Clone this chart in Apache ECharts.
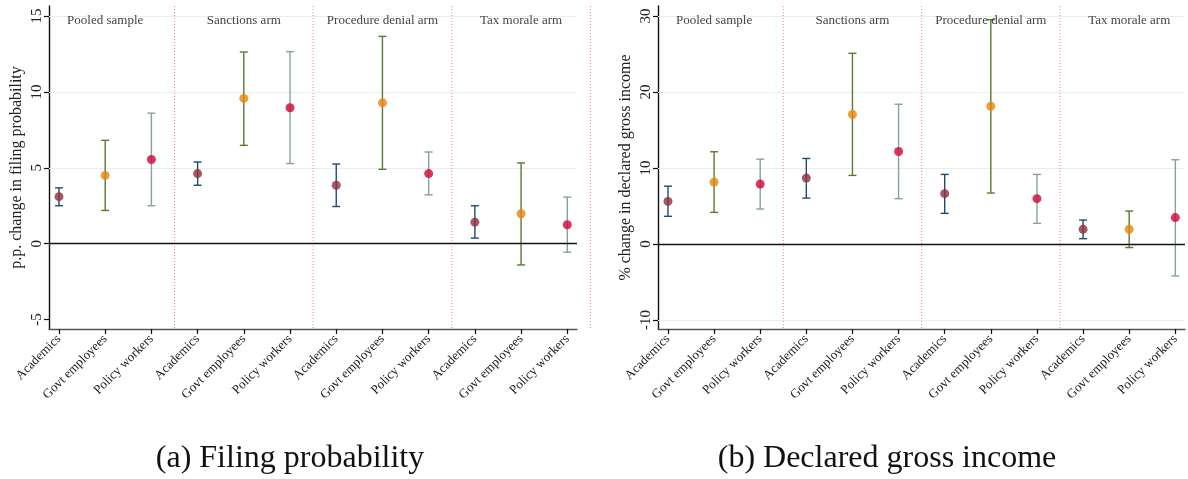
<!DOCTYPE html>
<html>
<head>
<meta charset="utf-8">
<script src="https://cdn.jsdelivr.net/npm/echarts@6/dist/echarts.min.js"></script>
<style>
html,body{margin:0;padding:0;background:#fff;}
#chart{width:1188px;height:479px;}
</style>
</head>
<body>
<div id="chart"></div>
<script>
// ---- data ----
const categories = ['Academics', 'Govt employees', 'Policy workers'];
const arms = ['Pooled sample', 'Sanctions arm', 'Procedure denial arm', 'Tax morale arm'];
const positions = [0, 1, 2, 3, 4, 5, 6, 7, 8, 9, 10, 11];
const separators = [2.5, 5.5, 8.5, 11.5];

const filingEst = [3.10, 4.50, 5.55, 4.62, 9.57, 8.96, 3.85, 9.28, 4.62, 1.42, 1.97, 1.25];
const filingLo  = [2.50, 2.19, 2.50, 3.85, 6.48, 5.28, 2.45, 4.90, 3.22, 0.37, -1.40, -0.56];
const filingHi  = [3.68, 6.81, 8.60, 5.38, 12.63, 12.65, 5.25, 13.66, 6.04, 2.50, 5.32, 3.07];

const incomeEst = [5.60, 8.14, 7.88, 8.67, 17.03, 12.17, 6.62, 18.12, 5.96, 1.93, 1.93, 3.47];
const incomeLo  = [3.64, 4.16, 4.60, 6.04, 9.02, 5.96, 4.03, 6.70, 2.72, 0.70, -0.47, -4.20];
const incomeHi  = [7.60, 12.13, 11.16, 11.25, 25.08, 18.38, 9.15, 29.50, 9.15, 3.15, 4.33, 11.08];

const filingTicks = [-5, 0, 5, 10, 15];
const filingGrid = [5, 10, 15];
const incomeTicks = [-10, 0, 10, 20, 30];
const incomeGrid = [-10, 10, 20, 30];

const yTitles = ['p.p. change in filing probability', '% change in declared gross income'];
const captions = ['(a) Filing probability', '(b) Declared gross income'];

// ---- styles ----
const SERIF = '"Liberation Serif", "DejaVu Serif", serif';
const pointColors = ['#902f3b', '#e8850a', '#cf0538'];
const barColors = ['#1f4a72', '#5a7a30', '#86a39a'];
const sepColor = '#ee86a4';

const chart = echarts.init(document.getElementById('chart'), null, {renderer: 'canvas'});

function makeAxes(i, yMin, yMax, ticks) {
  return {
    x: {
      type: 'value', gridIndex: i, min: -0.216, max: 11.21,
      axisLine: {show: true, onZero: false, lineStyle: {color: '#555', width: 1.4}},
      axisTick: {show: true, customValues: positions, length: 5, lineStyle: {color: '#111', width: 1.2}},
      axisLabel: {show: true, customValues: positions, rotate: 45, margin: 8,
        formatter: v => categories[Math.round(v) % 3],
        fontFamily: SERIF, fontSize: 13, color: '#222'},
      splitLine: {show: false}
    },
    y: {
      type: 'value', gridIndex: i, min: yMin, max: yMax,
      name: yTitles[i], nameLocation: 'middle', nameGap: 24,
      nameTextStyle: {fontFamily: SERIF, fontSize: 16, color: '#222'},
      axisLine: {show: true, onZero: false, lineStyle: {color: '#111', width: 1.4}},
      axisTick: {show: true, customValues: ticks, length: 5, lineStyle: {color: '#111', width: 1.2}},
      axisLabel: {show: true, customValues: ticks, rotate: 90, margin: 4,
        fontFamily: SERIF, fontSize: 15, color: '#222'},
      splitLine: {show: false}
    }
  };
}

function panelSeries(i, est, lo, hi, gridVals) {
  const xi = i, yi = i;
  const errData = positions.map((p, k) => [p, lo[k], hi[k], k % 3]);
  const ptData = positions.map((p, k) => ({value: [p, est[k]], itemStyle: {color: pointColors[k % 3]}}));
  const sepData = separators.map(s => [s]);
  const titleData = arms.map((a, k) => [k * 3 + 1, k]);
  return [
    { // separators + gridlines
      type: 'custom', xAxisIndex: xi, yAxisIndex: yi, clip: false, silent: true, z: 1,
      data: sepData,
      renderItem: (params, api) => {
        const cs = params.coordSys;
        const x = api.coord([api.value(0), 0])[0];
        return {type: 'line', shape: {x1: x, y1: cs.y, x2: x, y2: cs.y + cs.height - 1},
          style: {stroke: sepColor, lineWidth: 1, lineDash: [1, 2]}};
      },
      markLine: {
        silent: true, symbol: 'none', label: {show: false}, z: 1,
        lineStyle: {color: '#e8eeec', type: 'solid', width: 1},
        data: gridVals.map(v => ({yAxis: v}))
      }
    },
    { // arm titles
      type: 'custom', xAxisIndex: xi, yAxisIndex: yi, clip: false, silent: true, z: 10,
      data: titleData,
      renderItem: (params, api) => {
        const cs = params.coordSys;
        const x = api.coord([api.value(0), 0])[0];
        return {type: 'text', style: {x: x, y: cs.y + 15, text: arms[api.value(1)],
          fontFamily: SERIF, fontSize: 13, fill: '#444', align: 'center', verticalAlign: 'middle'}};
      }
    },
    { // error bars
      type: 'custom', xAxisIndex: xi, yAxisIndex: yi, clip: false, silent: true, z: 4,
      data: errData,
      renderItem: (params, api) => {
        const x = api.value(0);
        const a = api.coord([x, api.value(1)]);
        const b = api.coord([x, api.value(2)]);
        const c = barColors[api.value(3)];
        const st = {stroke: c, lineWidth: 1.4};
        const w = 4;
        return {type: 'group', children: [
          {type: 'line', shape: {x1: a[0], y1: a[1], x2: b[0], y2: b[1]}, style: st},
          {type: 'line', shape: {x1: a[0] - w, y1: a[1], x2: a[0] + w, y2: a[1]}, style: st},
          {type: 'line', shape: {x1: b[0] - w, y1: b[1], x2: b[0] + w, y2: b[1]}, style: st}
        ]};
      },
      markLine: {
        silent: true, symbol: 'none', label: {show: false},
        lineStyle: {color: '#111', type: 'solid', width: 1.4},
        data: [{yAxis: 0}]
      }
    },
    { // point estimates
      type: 'scatter', xAxisIndex: xi, yAxisIndex: yi, z: 5,
      symbol: 'circle', symbolSize: 9, silent: true,
      data: ptData
    }
  ];
}

const a0 = makeAxes(0, -5.62, 15.66, filingTicks);
const a1 = makeAxes(1, -11.18, 31.3, incomeTicks);

const option = {
  animation: false,
  backgroundColor: '#ffffff',
  grid: [
    {left: 49, top: 6, width: 528, height: 323},
    {left: 658, top: 6, width: 527, height: 323}
  ],
  xAxis: [a0.x, a1.x],
  yAxis: [a0.y, a1.y],
  series: [].concat(
    panelSeries(0, filingEst, filingLo, filingHi, filingGrid),
    panelSeries(1, incomeEst, incomeLo, incomeHi, incomeGrid)
  ),
  graphic: [
    {type: 'text', x: 290, y: 459, style: {text: captions[0], fontFamily: SERIF, fontSize: 32, fill: '#111', align: 'center', verticalAlign: 'middle'}},
    {type: 'text', x: 887, y: 459, style: {text: captions[1], fontFamily: SERIF, fontSize: 32, fill: '#111', align: 'center', verticalAlign: 'middle'}}
  ]
};
chart.setOption(option);
</script>
</body>
</html>
